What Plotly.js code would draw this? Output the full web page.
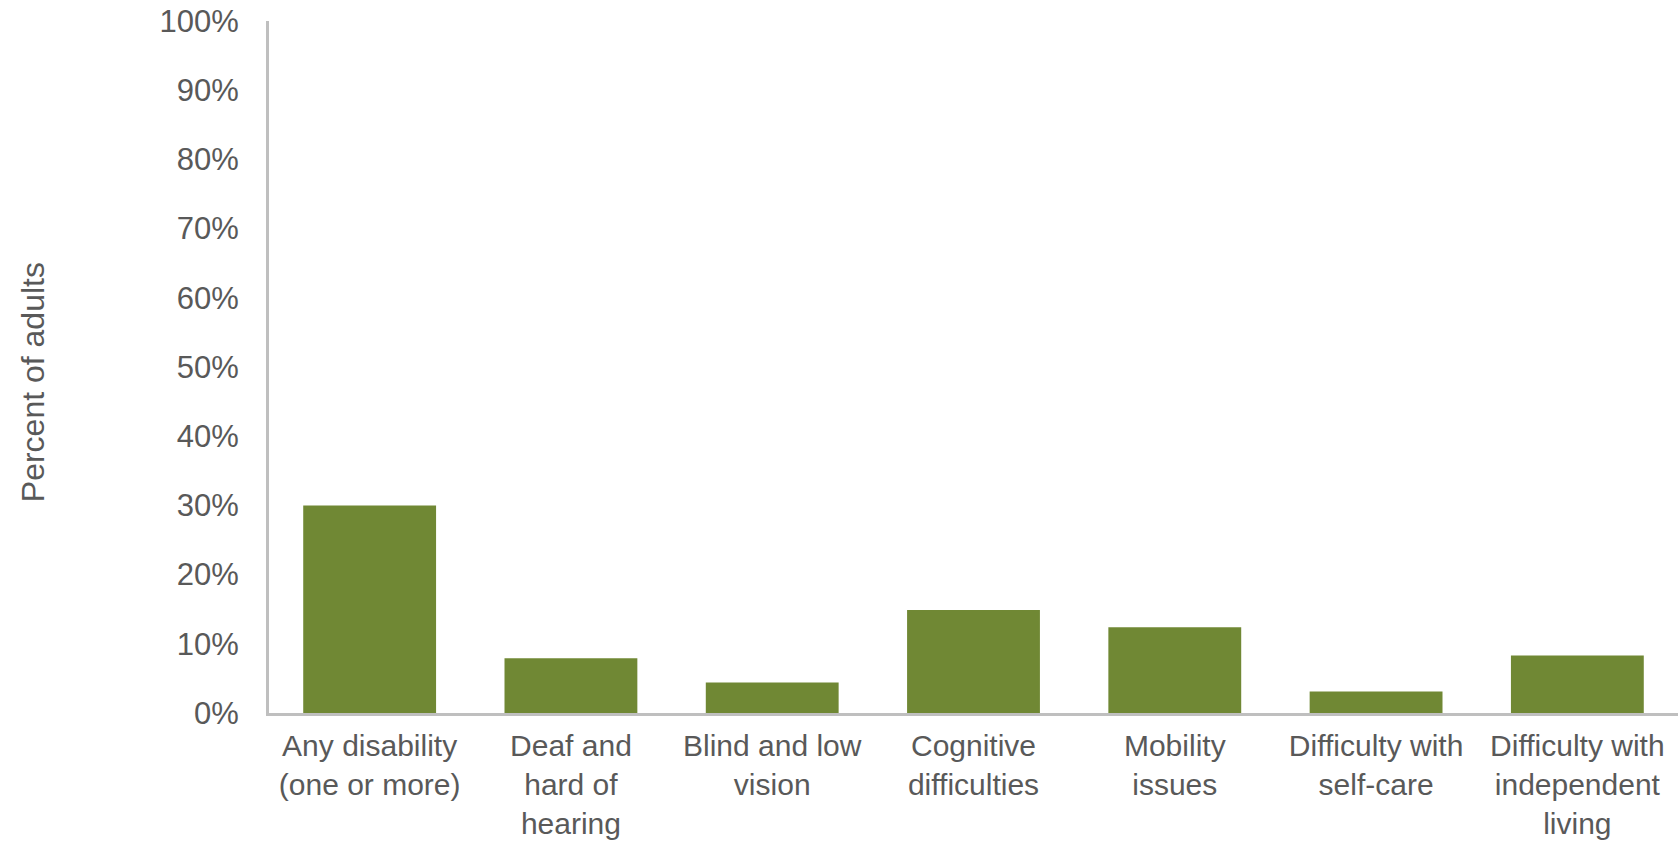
<!DOCTYPE html>
<html>
<head>
<meta charset="utf-8">
<script src="https://cdn.plot.ly/plotly-3.0.1.min.js"></script>
<style>html,body{margin:0;padding:0;background:#fff;}#chart{width:1678px;height:841px;}</style>
</head>
<body>
<div id="chart"></div>
<script>
var categories = [
  "Any disability<br>(one or more)",
  "Deaf and<br>hard of<br>hearing",
  "Blind and low<br>vision",
  "Cognitive<br>difficulties",
  "Mobility<br>issues",
  "Difficulty with<br>self-care",
  "Difficulty with<br>independent<br>living"
];
var percentAdults = [30.0, 7.9, 4.4, 14.9, 12.4, 3.1, 8.3];
var yTickValues = [0, 10, 20, 30, 40, 50, 60, 70, 80, 90, 100];
var yTickLabels = ["0%", "10%", "20%", "30%", "40%", "50%", "60%", "70%", "80%", "90%", "100%"];
var yTitle = "Percent of adults";

var trace = {
  type: 'bar',
  x: categories,
  y: percentAdults,
  marker: {color: '#708834'},
  hoverinfo: 'skip'
};

var layout = {
  width: 1678,
  height: 841,
  margin: {l: 269, r: 0, t: 21, b: 128, pad: 0},
  paper_bgcolor: '#ffffff',
  plot_bgcolor: '#ffffff',
  bargap: 0.34,
  showlegend: false,
  font: {family: 'Liberation Sans, Arial, sans-serif', size: 30, color: '#595959'},
  xaxis: {
    type: 'category',
    showline: true,
    linecolor: '#BFBFBF',
    linewidth: 3,
    showgrid: false,
    zeroline: false,
    ticks: 'outside',
    ticklen: 4,
    tickcolor: 'rgba(0,0,0,0)',
    tickangle: 0,
    tickfont: {family: 'Liberation Sans, Arial, sans-serif', size: 30, color: '#595959'}
  },
  yaxis: {
    range: [0, 100],
    tickvals: yTickValues,
    ticktext: yTickLabels,
    showline: true,
    linecolor: '#BFBFBF',
    linewidth: 3,
    showgrid: false,
    zeroline: false,
    ticks: 'outside',
    ticklen: 21,
    tickcolor: 'rgba(0,0,0,0)',
    tickfont: {family: 'Liberation Sans, Arial, sans-serif', size: 31, color: '#595959'}
  },
  annotations: [{
    text: yTitle,
    xref: 'paper', yref: 'paper',
    x: -0.1675, y: 0.478,
    xanchor: 'center', yanchor: 'middle',
    textangle: -90,
    showarrow: false,
    font: {family: 'Liberation Sans, Arial, sans-serif', size: 32, color: '#595959'}
  }]
};

Plotly.newPlot('chart', [trace], layout, {displayModeBar: false, staticPlot: true});
</script>
</body>
</html>
